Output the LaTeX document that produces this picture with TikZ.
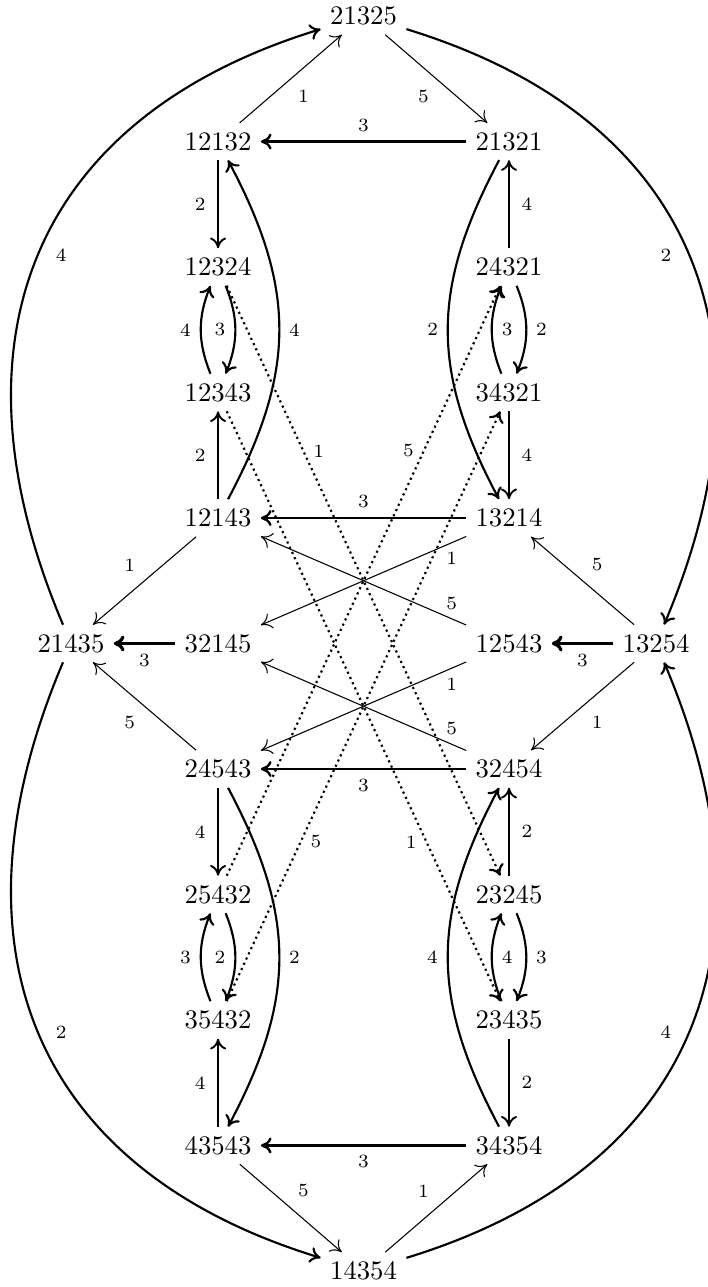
\documentclass[tikz,border=0pt]{standalone}
\usepackage{amsmath, amssymb}
\usepackage{tikz}
\usetikzlibrary{arrows.meta, positioning}

\begin{document}
\begin{tikzpicture}[x=1cm, y=1.651cm, >={To[length=4pt, width=6pt]},
  lbl/.style={font=\scriptsize},
  diag/.style={->, line width=0.4pt},
  vert/.style={->, line width=0.7pt},
  flat/.style={->, line width=0.9pt},
  short/.style={->, line width=1.2pt},
  bow/.style={->, line width=0.8pt, looseness=1.1},
  small/.style={->, line width=0.8pt},
  outer/.style={->, line width=0.8pt, looseness=1.2},
  dots/.style={->, line width=0.8pt, dash pattern=on 0.8pt off 1.35pt}]
  \useasboundingbox (-4.783,-5.128) rectangle (4.520,5.128);
  % Words
  \foreach \n/\x/\y in {21325/0/5, 12132/-1.914/4, 21321/1.914/4,
      12324/-1.914/3, 24321/1.914/3, 12343/-1.914/2, 34321/1.914/2,
      12143/-1.914/1, 13214/1.914/1, 21435/-3.849/0, 32145/-1.914/0,
      12543/1.914/0, 13254/3.849/0, 24543/-1.914/-1, 32454/1.914/-1,
      25432/-1.914/-2, 23245/1.914/-2, 35432/-1.914/-3, 23435/1.914/-3,
      43543/-1.914/-4, 34354/1.914/-4, 14354/0/-5} {
    \node (n\n) at (\x,\y) {\n};
  }
  % Top triangle
  \draw[diag] (n12132) -- node[lbl, pos=0.48, below right] {1} (n21325);
  \draw[diag] (n21325) -- node[lbl, pos=0.52, below left] {5} (n21321);
  \draw[flat] (n21321) -- node[lbl, above] {3} (n12132);
  % Outer curves
  \draw[outer] (n21435) to[out=113, in=197] node[lbl, right=3pt] {4} (n21325);
  \draw[outer] (n21325) to[out=-17, in=67] node[lbl, left=3pt] {2} (n13254);
  \draw[outer] (n21435) to[out=-113, in=163] node[lbl, right=3pt] {2} (n14354);
  \draw[outer] (n14354) to[out=17, in=-67] node[lbl, left=3pt] {4} (n13254);
  % Upper left column
  \draw[vert] (n12132) -- node[lbl, left=1pt] {2} (n12324);
  \draw[bow] (n12143) to[out=62, in=-62] node[lbl, right] {4} (n12132);
  \draw[small] (n12343) to[bend left=22] node[lbl, left] {4} (n12324);
  \draw[small] (n12324) to[bend left=22] node[lbl, left] {3} (n12343);
  \draw[vert] (n12143) -- node[lbl, left=1pt] {2} (n12343);
  % Upper right column
  \draw[vert] (n24321) -- node[lbl, right=1pt] {4} (n21321);
  \draw[bow] (n21321) to[out=-118, in=118] node[lbl, left] {2} (n13214);
  \draw[small] (n24321) to[bend left=22] node[lbl, right] {2} (n34321);
  \draw[small] (n34321) to[bend left=22] node[lbl, right] {3} (n24321);
  \draw[vert] (n34321) -- node[lbl, right=1pt] {4} (n13214);
  % Dotted crossings
  \draw[dots] (n12324) -- node[lbl, pos=0.28, right] {1} (n23245);
  \draw[dots] (n12343) -- node[lbl, pos=0.73, left] {1} (n23435);
  \draw[dots] (n25432) -- node[lbl, pos=0.72, left] {5} (n24321);
  \draw[dots] (n35432) -- node[lbl, pos=0.27, right] {5} (n34321);
  % Middle
  \draw[flat] (n13214) -- node[lbl, above] {3} (n12143);
  \draw[diag] (n12143) -- node[lbl, above left] {1} (n21435);
  \draw[diag] (n13214) -- node[lbl, pos=0.07, below] {1} (n32145);
  \draw[diag] (n12543) -- node[lbl, pos=0.07, above] {5} (n12143);
  \draw[diag] (n13254) -- node[lbl, above right] {5} (n13214);
  \draw[short] (n13254) -- node[lbl, below] {3} (n12543);
  \draw[short] (n32145) -- node[lbl, below] {3} (n21435);
  \draw[diag] (n12543) -- node[lbl, pos=0.07, below] {1} (n24543);
  \draw[diag] (n32454) -- node[lbl, pos=0.07, above] {5} (n32145);
  \draw[diag] (n24543) -- node[lbl, below left] {5} (n21435);
  \draw[diag] (n13254) -- node[lbl, below right] {1} (n32454);
  \draw[flat] (n32454) -- node[lbl, below] {3} (n24543);
  % Lower left column
  \draw[vert] (n24543) -- node[lbl, left=1pt] {4} (n25432);
  \draw[bow] (n24543) to[out=-62, in=62] node[lbl, right] {2} (n43543);
  \draw[small] (n35432) to[bend left=22] node[lbl, left] {3} (n25432);
  \draw[small] (n25432) to[bend left=22] node[lbl, left] {2} (n35432);
  \draw[vert] (n43543) -- node[lbl, left=1pt] {4} (n35432);
  % Lower right column
  \draw[vert] (n23245) -- node[lbl, right=1pt] {2} (n32454);
  \draw[bow] (n34354) to[out=118, in=-118] node[lbl, left] {4} (n32454);
  \draw[small] (n23435) to[bend left=22] node[lbl, right] {4} (n23245);
  \draw[small] (n23245) to[bend left=22] node[lbl, right] {3} (n23435);
  \draw[vert] (n23435) -- node[lbl, right=1pt] {2} (n34354);
  % Bottom triangle
  \draw[flat] (n34354) -- node[lbl, below] {3} (n43543);
  \draw[diag] (n43543) -- node[lbl, pos=0.48, above right] {5} (n14354);
  \draw[diag] (n14354) -- node[lbl, pos=0.52, above left] {1} (n34354);
\end{tikzpicture}
\end{document}
